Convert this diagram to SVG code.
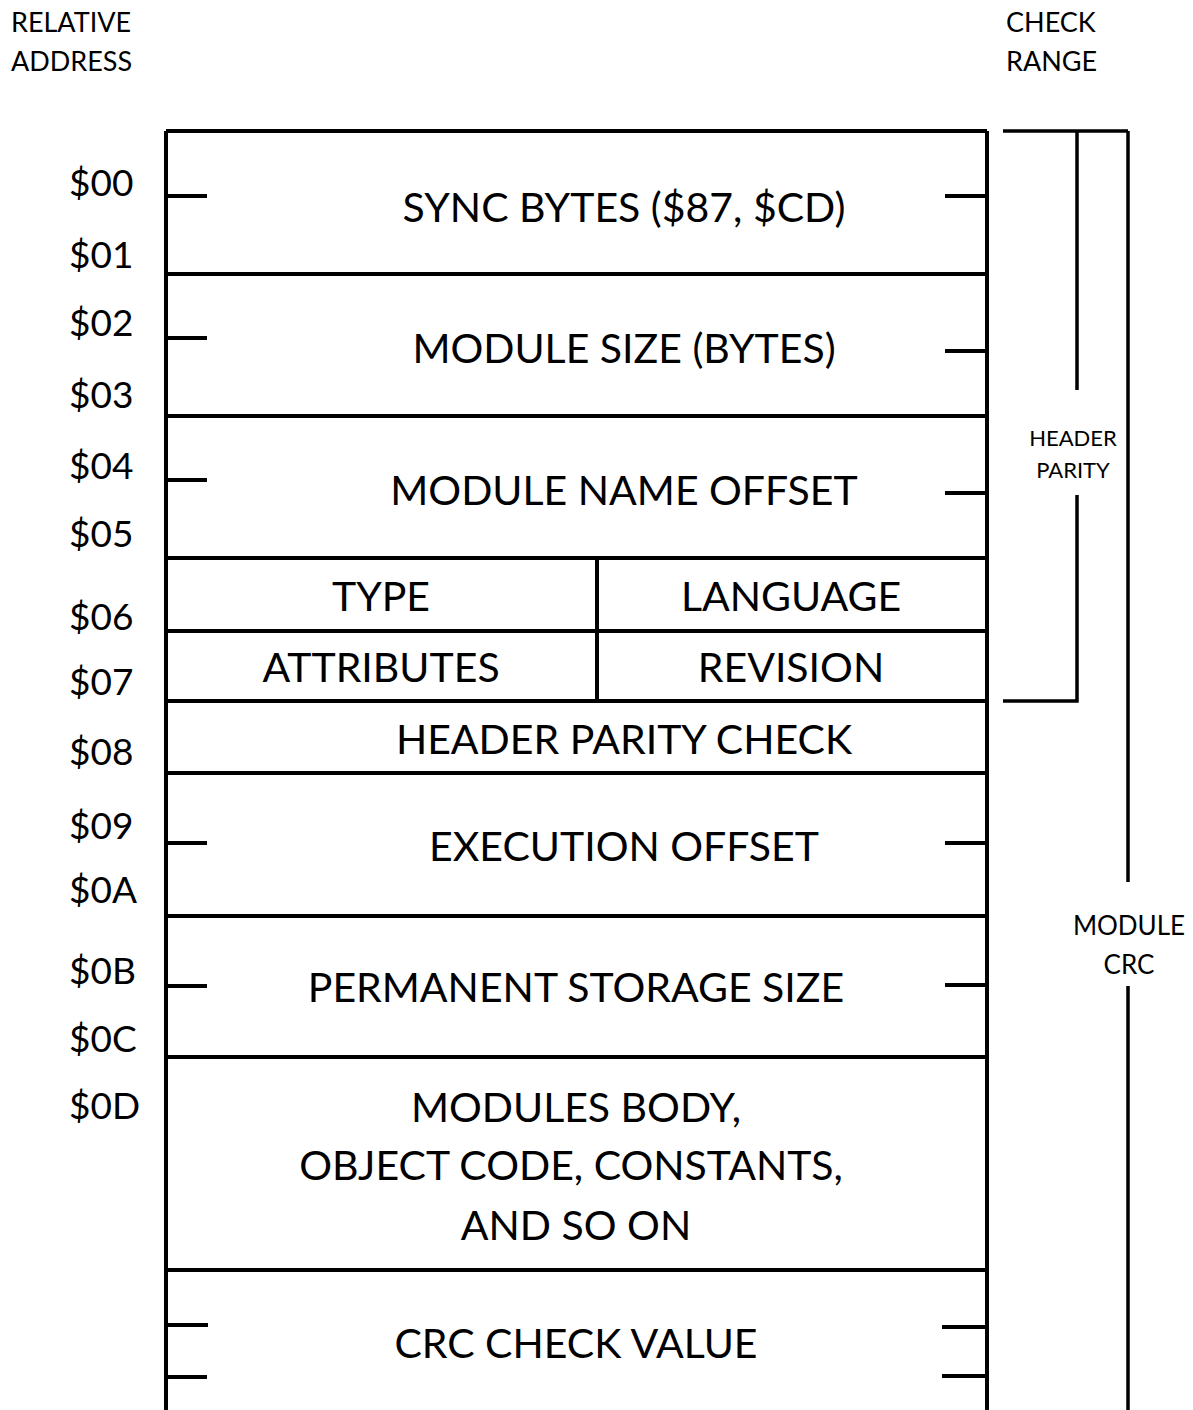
<svg xmlns="http://www.w3.org/2000/svg" width="1193" height="1410" viewBox="0 0 1193 1410">
<style>
.ln{stroke:#000;stroke-width:4;fill:none;stroke-linecap:butt}
.tk{stroke:#000;stroke-width:4;fill:none}
.br{stroke:#000;stroke-width:3.5;fill:none}
text{font-family:Lato,"Open Sans","Liberation Sans",sans-serif;fill:#000}
.big{font-size:41px;text-anchor:middle}
.adr{font-size:37px}
.hd{font-size:27px}
.sm{font-size:22px;text-anchor:middle}
.md{font-size:26px;text-anchor:middle}
</style>
<rect width="1193" height="1410" fill="#fff"/>
<g id="headers">
<text class="hd" x="11" y="32">RELATIVE</text>
<text class="hd" x="11" y="71">ADDRESS</text>
<text class="hd" x="1006" y="32">CHECK</text>
<text class="hd" x="1006" y="71">RANGE</text>
</g>
<g id="addresses">
<text class="adr" x="69" y="196">$00</text>
<text class="adr" x="69" y="268">$01</text>
<text class="adr" x="69" y="336">$02</text>
<text class="adr" x="69" y="408">$03</text>
<text class="adr" x="69" y="479">$04</text>
<text class="adr" x="69" y="547">$05</text>
<text class="adr" x="69" y="630">$06</text>
<text class="adr" x="69" y="695">$07</text>
<text class="adr" x="69" y="765">$08</text>
<text class="adr" x="69" y="839">$09</text>
<text class="adr" x="69" y="903">$0A</text>
<text class="adr" x="69" y="984">$0B</text>
<text class="adr" x="69" y="1052">$0C</text>
<text class="adr" x="69" y="1119">$0D</text>
</g>
<g id="frame">
<path class="ln" d="M166 131H987M166 131V1410M987 131V1410"/>
<path class="ln" d="M166 274H987M166 416H987M166 558H987M166 631H987M166 701H987M166 773H987M166 916H987M166 1057H987M166 1270H987M597 558V701"/>
</g>
<g id="ticks">
<path class="tk" d="M166 196H207M166 338H207M166 480H207M166 843H207M166 986H207M166 1325H208M166 1377H207"/>
<path class="tk" d="M945 196H987M945 351H987M945 493H987M945 843H987M945 985H987M942 1327H987M942 1376H987"/>
</g>
<g id="n-sync"><text class="big" x="624" y="222">SYNC BYTES ($87, $CD)</text></g>
<g id="n-size"><text class="big" x="624" y="363">MODULE SIZE (BYTES)</text></g>
<g id="n-name"><text class="big" x="624" y="505">MODULE NAME OFFSET</text></g>
<g id="n-type"><text class="big" x="381" y="611">TYPE</text></g>
<g id="n-lang"><text class="big" x="791" y="611">LANGUAGE</text></g>
<g id="n-attr"><text class="big" x="381" y="682">ATTRIBUTES</text></g>
<g id="n-rev"><text class="big" x="791" y="682">REVISION</text></g>
<g id="n-hpc"><text class="big" x="624" y="754">HEADER PARITY CHECK</text></g>
<g id="n-exec"><text class="big" x="624" y="861">EXECUTION OFFSET</text></g>
<g id="n-perm"><text class="big" x="576" y="1002">PERMANENT STORAGE SIZE</text></g>
<g id="n-body">
<text class="big" x="576" y="1122">MODULES BODY,</text>
<text class="big" x="571" y="1180">OBJECT CODE, CONSTANTS,</text>
<text class="big" x="576" y="1240">AND SO ON</text>
</g>
<g id="n-crc"><text class="big" x="576" y="1358">CRC CHECK VALUE</text></g>
<g id="connectors">
<path class="br" d="M1003 131H1128M1077 131V390M1077 495V701H1003M1128 131V882M1128 986V1410"/>
<text class="sm" x="1073" y="446">HEADER</text>
<text class="sm" x="1073" y="478">PARITY</text>
<text class="md" x="1129" y="935">MODULE</text>
<text class="md" x="1129" y="974">CRC</text>
</g>
</svg>
